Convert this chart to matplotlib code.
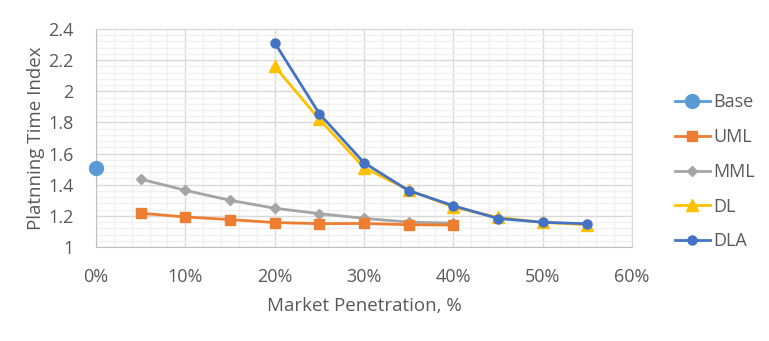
import matplotlib
matplotlib.use("Agg")
import matplotlib.pyplot as plt
from matplotlib.ticker import MultipleLocator, FuncFormatter

plt.rcParams['font.family'] = ['Open Sans', 'DejaVu Sans']

base_x = [0]
base_y = [1.51]
uml_x = [5, 10, 15, 20, 25, 30, 35, 40]
uml_y = [1.217, 1.193, 1.176, 1.157, 1.150, 1.151, 1.143, 1.141]
mml_x = [5, 10, 15, 20, 25, 30, 35, 40]
mml_y = [1.436, 1.364, 1.300, 1.249, 1.214, 1.184, 1.160, 1.153]
dl_x = [20, 25, 30, 35, 40, 45, 50, 55]
dl_y = [2.16, 1.82, 1.51, 1.366, 1.257, 1.190, 1.158, 1.143]
dla_x = [20, 25, 30, 35, 40, 45, 50, 55]
dla_y = [2.312, 1.856, 1.541, 1.362, 1.265, 1.183, 1.159, 1.149]

fig = plt.figure(figsize=(7.69, 3.41), dpi=100)
ax = fig.add_axes([96/769, 1-247/341, (632-96)/769, (247-29)/341])

tc = '#595959'
ax.plot(base_x, base_y, color='#5B9BD5', marker='o', ms=10, lw=2, label='Base', zorder=5, clip_on=False)
ax.plot(uml_x, uml_y, color='#ED7D31', marker='s', ms=7, lw=2, label='UML', zorder=4)
ax.plot(mml_x, mml_y, color='#A5A5A5', marker='D', ms=5, lw=2, label='MML', zorder=3)
ax.plot(dl_x, dl_y, color='#FFC000', marker='^', ms=8, lw=2, label='DL', zorder=4)
ax.plot(dla_x, dla_y, color='#4472C4', marker='o', ms=6.5, lw=2, label='DLA', zorder=5)

ax.set_xlim(0, 60)
ax.set_ylim(1, 2.4)
ax.xaxis.set_major_locator(MultipleLocator(10))
ax.xaxis.set_minor_locator(MultipleLocator(2))
ax.yaxis.set_major_locator(MultipleLocator(0.2))
ax.yaxis.set_minor_locator(MultipleLocator(0.04))
ax.xaxis.set_major_formatter(FuncFormatter(lambda v, p: f"{int(round(v))}%"))
ax.yaxis.set_major_formatter(FuncFormatter(lambda v, p: f"{v:.1f}".rstrip('0').rstrip('.') if abs(v - round(v)) > 1e-9 else f"{int(round(v))}"))

ax.grid(which='major', color='#D9D9D9', lw=1)
ax.grid(which='minor', color='#F0F0F0', lw=1)
ax.set_axisbelow(True)
for s in ['top', 'right']:
    ax.spines[s].set_color('#D9D9D9')
for s in ['left', 'bottom']:
    ax.spines[s].set_color('#BFBFBF')
ax.tick_params(which='both', length=0, labelsize=13, colors=tc)
ax.tick_params(axis='y', pad=16)
ax.tick_params(axis='x', pad=15)

ax.set_xlabel('Market Penetration, %', fontsize=13.5, color=tc, labelpad=8)
ax.set_ylabel('Platnning Time Index', fontsize=13.5, color=tc, labelpad=2)

leg = fig.legend(loc='upper left', bbox_to_anchor=(659/769, 1 - 77/341), frameon=False,
                 fontsize=13, labelspacing=0.93, handlelength=1.9, handletextpad=0.2,
                 labelcolor=tc)

fig.savefig('out.png', dpi=100)
